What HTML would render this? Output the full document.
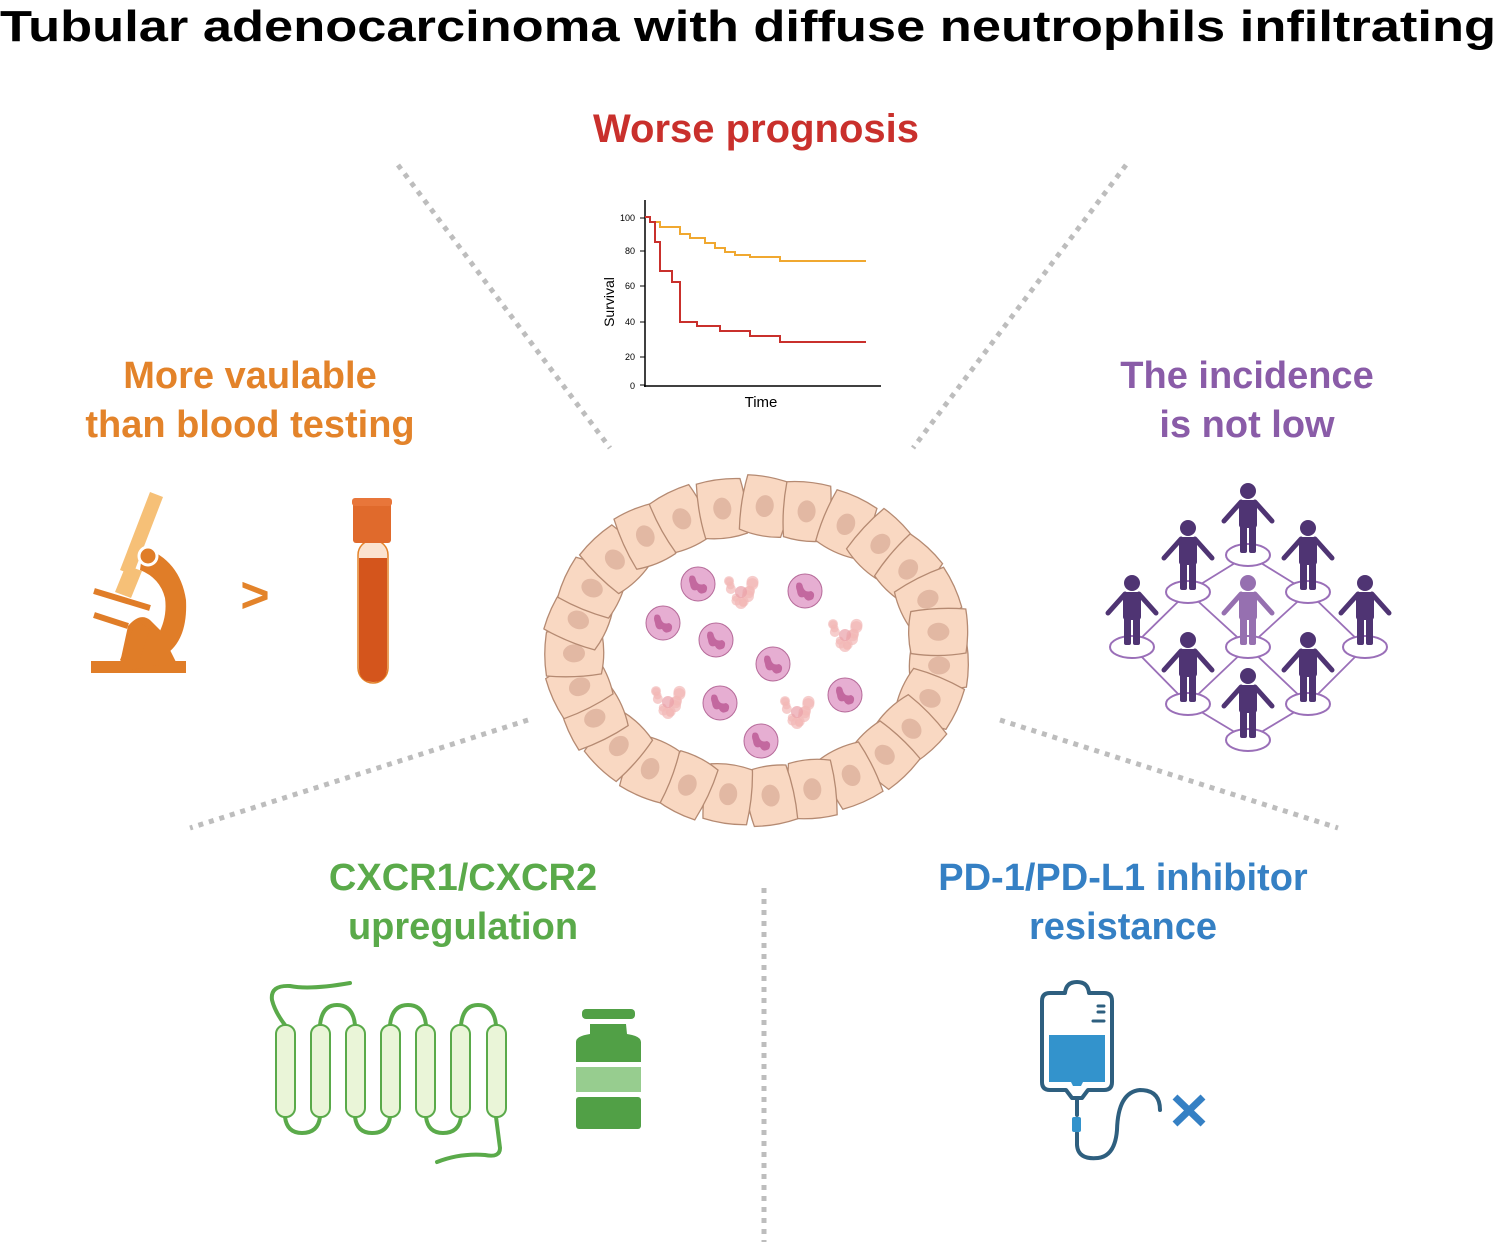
<!DOCTYPE html>
<html><head><meta charset="utf-8"><style>
html,body{margin:0;padding:0;background:#fff;overflow:hidden;}
svg{display:block;font-family:"Liberation Sans",Arial,sans-serif;}
</style></head><body>
<svg id="s" width="1496" height="1242" viewBox="0 0 1496 1242" xmlns="http://www.w3.org/2000/svg">
<text x="0" y="41" font-size="44" font-weight="bold" fill="#000" textLength="1496" lengthAdjust="spacingAndGlyphs">Tubular adenocarcinoma with diffuse neutrophils infiltrating</text>

<g stroke="#bdbdbd" stroke-width="5" stroke-dasharray="5 6" fill="none">
<line x1="398" y1="165" x2="610" y2="448"/>
<line x1="1126" y1="165" x2="913" y2="448"/>
<line x1="528" y1="720" x2="190" y2="828"/>
<line x1="1000" y1="720" x2="1338" y2="828"/>
<line x1="764" y1="888" x2="764" y2="1242"/>
</g>

<text x="756" y="142" font-size="40" font-weight="bold" fill="#c9302c" text-anchor="middle">Worse prognosis</text>
<g font-weight="bold" font-size="38" text-anchor="middle">
<text x="250" y="388" fill="#e3832a">More vaulable</text>
<text x="250" y="437" fill="#e3832a">than blood testing</text>
<text x="1247" y="388" fill="#8a5ca8">The incidence</text>
<text x="1247" y="437" fill="#8a5ca8">is not low</text>
<text x="463" y="890" fill="#5aaa4a">CXCR1/CXCR2</text>
<text x="463" y="939" fill="#5aaa4a">upregulation</text>
<text x="1123" y="890" fill="#3580c4">PD-1/PD-L1 inhibitor</text>
<text x="1123" y="939" fill="#3580c4">resistance</text>
</g>

<g font-size="9" fill="#000" text-anchor="end">
<line x1="645" y1="200" x2="645" y2="387" stroke="#000" stroke-width="1.5"/>
<line x1="644" y1="386" x2="881" y2="386" stroke="#000" stroke-width="1.5"/>
<text x="635" y="221">100</text><text x="635" y="254">80</text><text x="635" y="289">60</text>
<text x="635" y="325">40</text><text x="635" y="360">20</text><text x="635" y="389">0</text>
<g stroke="#000"><line x1="640" y1="218" x2="645" y2="218"/><line x1="640" y1="251" x2="645" y2="251"/><line x1="640" y1="286" x2="645" y2="286"/><line x1="640" y1="322" x2="645" y2="322"/><line x1="640" y1="357" x2="645" y2="357"/><line x1="640" y1="385" x2="645" y2="385"/></g>
<text x="614" y="302" font-size="14" text-anchor="middle" transform="rotate(-90 614 302)">Survival</text>
<text x="761" y="407" font-size="15" text-anchor="middle">Time</text>
<polyline fill="none" stroke="#f0a830" stroke-width="2" points="645,217 650,217 650,222 660,222 660,227 680,227 680,234 690,234 690,238 705,238 705,243 715,243 715,248 725,248 725,252 735,252 735,255 750,255 750,257 780,257 780,261 866,261"/>
<polyline fill="none" stroke="#c9302c" stroke-width="2" points="645,217 650,217 650,222 655,222 655,242 660,242 660,271 672,271 672,282 680,282 680,322 697,322 697,326 720,326 720,331 750,331 750,336 780,336 780,342 866,342"/>
</g>

<!-- microscope -->
<g>
<polygon points="150,492 163,497 133,575 120,570" fill="#f6c077"/>
<polygon points="126,565 142,571 131,598 115,592" fill="#f6c077"/>
<rect x="91" y="661" width="95" height="12" fill="#e07d28"/>
<path d="M143,547 Q180,560 186,600 Q188,640 165,655 L155,640 Q168,620 165,598 Q160,578 140,570 Z" fill="#e07d28"/>
<path d="M118,672 L128,626 Q140,612 150,620 L160,630 L176,662 Z" fill="#e07d28"/>
<circle cx="148" cy="556" r="9" fill="#e07d28" stroke="#fff" stroke-width="3"/>
<line x1="94" y1="591" x2="150" y2="608" stroke="#e07d28" stroke-width="6"/>
<line x1="94" y1="615" x2="128" y2="626" stroke="#e07d28" stroke-width="6"/>
<path d="M120,660 L137,620 L150,630 L140,660 Z" fill="#e07d28"/>
</g>
<text x="255" y="612" font-size="50" font-weight="bold" fill="#e3832a" text-anchor="middle">&gt;</text>
<rect x="358" y="540" width="30" height="143" rx="15" fill="#fbe3d0" stroke="#e3832a" stroke-width="1.5"/>
<path d="M359,558 L387,558 L387,668 Q387,682 373,682 Q359,682 359,668 Z" fill="#d4551c"/>
<rect x="353" y="499" width="38" height="44" rx="3" fill="#e06a2c"/>
<rect x="352" y="498" width="40" height="8" rx="3" fill="#e8763a"/>

<g id="cells"></g>
<g id="neut"></g>
<g id="people" fill="#4f3473"></g>

<!-- GPCR -->
<g fill="none" stroke="#5aaa4a" stroke-width="4" stroke-linecap="round">
<path d="M350,983 Q310,990 290,986 Q270,985 272,1000 Q275,1012 285,1025"/>
<path d="M320,1025 Q322,1005 337,1005 Q353,1005 355,1025"/>
<path d="M390,1025 Q392,1005 408,1005 Q424,1005 426,1025"/>
<path d="M461,1025 Q463,1005 478,1005 Q494,1005 496,1025"/>
<path d="M285,1117 Q287,1133 302,1133 Q318,1133 320,1117"/>
<path d="M355,1117 Q357,1133 372,1133 Q388,1133 390,1117"/>
<path d="M426,1117 Q428,1133 443,1133 Q459,1133 461,1117"/>
<path d="M496,1117 L500,1148 Q500,1158 485,1155 Q460,1153 437,1162"/>
</g>
<g fill="#eaf5d8" stroke="#5aaa4a" stroke-width="2">
<rect x="276" y="1025" width="19" height="92" rx="9"/>
<rect x="311" y="1025" width="19" height="92" rx="9"/>
<rect x="346" y="1025" width="19" height="92" rx="9"/>
<rect x="381" y="1025" width="19" height="92" rx="9"/>
<rect x="416" y="1025" width="19" height="92" rx="9"/>
<rect x="451" y="1025" width="19" height="92" rx="9"/>
<rect x="487" y="1025" width="19" height="92" rx="9"/>
</g>
<rect x="582" y="1009" width="53" height="10" rx="4" fill="#51a046"/>
<path d="M590,1024 L626,1024 L627,1034 Q641,1036 641,1042 L641,1062 L576,1062 L576,1042 Q576,1036 590,1034 Z" fill="#51a046"/>
<rect x="576" y="1067" width="65" height="25" fill="#97cd8f"/>
<rect x="576" y="1097" width="65" height="32" rx="3" fill="#51a046"/>

<!-- IV bag -->
<path d="M1049,1035 L1105,1035 L1105,1082 L1083,1082 L1081,1086 L1073,1086 L1071,1082 L1049,1082 Z" fill="#3393cc"/>
<g fill="none" stroke="#2e5f7f" stroke-width="4" stroke-linecap="round" stroke-linejoin="round">
<path d="M1050,993 L1065,993 Q1066,982 1077,982 Q1088,982 1089,993 L1104,993 Q1112,993 1112,1001 L1112,1082 Q1112,1090 1104,1090 L1088,1090 L1082,1098 L1072,1098 L1066,1090 L1050,1090 Q1042,1090 1042,1082 L1042,1001 Q1042,993 1050,993 Z"/>
<line x1="1098" y1="1006" x2="1104" y2="1006" stroke-width="3"/>
<line x1="1098" y1="1012" x2="1104" y2="1012" stroke-width="3"/>
<line x1="1093" y1="1021" x2="1104" y2="1021" stroke-width="3"/>
<path d="M1077,1098 L1077,1115"/>
<path d="M1077,1133 L1077,1145 Q1078,1160 1098,1158 Q1115,1156 1117,1130 Q1118,1092 1140,1090 Q1160,1090 1160,1110"/>
</g>
<rect x="1072" y="1117" width="9" height="15" rx="2" fill="#3393cc"/>
<g stroke="#3580c4" stroke-width="7"><line x1="1175" y1="1097" x2="1203" y2="1124"/><line x1="1203" y1="1097" x2="1175" y2="1124"/></g>
</svg>
<script>
var NS="http://www.w3.org/2000/svg";
function el(t,a,p){var e=document.createElementNS(NS,t);for(var k in a)e.setAttribute(k,a[k]);p.appendChild(e);return e;}
var cg=document.getElementById("cells");
var cx=757,cy=651,rx=183,ry=145,N=27;
for(var i=0;i<N;i++){var t=i/N*2*Math.PI+0.1;var x=cx+rx*Math.cos(t),y=cy+ry*Math.sin(t);
var ang=Math.atan2(Math.sin(t)*rx, Math.cos(t)*ry)*180/Math.PI + (i%3-1)*8;
var g=el("g",{transform:"translate("+x.toFixed(1)+","+y.toFixed(1)+") rotate("+(ang-90).toFixed(1)+")"},cg);
el("path",{d:"M-21,-28 Q0,-32 21,-27 Q25,0 22,28 Q0,31 -22,27 Q-26,0 -21,-28Z",fill:"#f9d8c2",stroke:"#b58a72","stroke-width":1.3},g);
el("ellipse",{cx:0,cy:0,rx:9,ry:11,fill:"#e2b8a3"},g);}
var ng=document.getElementById("neut");
[[698,584],[805,591],[663,623],[716,640],[773,664],[845,695],[720,703],[761,741]].forEach(function(p){
el("circle",{cx:p[0],cy:p[1],r:17,fill:"#e6aed2",stroke:"#b56a99","stroke-width":1},ng);
el("path",{d:"M"+(p[0]-8)+","+(p[1]-8)+" q5,-2 6,4 q2,6 8,4 q5,2 2,8 q-6,4 -9,-2 q-6,2 -7,-6 q-2,-5 0,-8z",fill:"#c3689f"},ng);});
[[741,592],[845,635],[668,702],[797,712]].forEach(function(p){
for(var k=0;k<14;k++){el("circle",{cx:p[0]+(Math.sin(k*2.3)*12),cy:p[1]+(Math.cos(k*1.7)*11),r:6-(k%3),fill:"#f2b8b6",opacity:0.7},ng);}
el("circle",{cx:p[0],cy:p[1],r:6,fill:"#eaa0a8",opacity:0.7},ng);});
var pg=document.getElementById("people");
var P=[[1248,555],[1188,592],[1308,592],[1132,647],[1248,647],[1365,647],[1188,704],[1308,704],[1248,740]];
var lines=[[0,1],[0,2],[1,3],[1,4],[2,4],[2,5],[3,6],[4,6],[4,7],[5,7],[6,8],[7,8]];
lines.forEach(function(l){el("line",{x1:P[l[0]][0],y1:P[l[0]][1],x2:P[l[1]][0],y2:P[l[1]][1],stroke:"#9a6fb8","stroke-width":1.8},pg);});
P.forEach(function(p){el("ellipse",{cx:p[0],cy:p[1],rx:22,ry:11,fill:"#fff",stroke:"#9a6fb8","stroke-width":2},pg);});
P.forEach(function(p,i){var c=i==4?"#9670b0":"#4f3473";
var g=el("g",{transform:"translate("+p[0]+","+p[1]+")",fill:c},pg);
el("circle",{cx:0,cy:-64,r:8},g);
el("rect",{x:-9,y:-55,width:18,height:28,rx:3},g);
el("rect",{x:-8,y:-32,width:7,height:30,rx:2},g);
el("rect",{x:1,y:-32,width:7,height:30,rx:2},g);
el("line",{x1:-7,y1:-53,x2:-24,y2:-34,stroke:c,"stroke-width":5,"stroke-linecap":"round"},g);
el("line",{x1:7,y1:-53,x2:24,y2:-34,stroke:c,"stroke-width":5,"stroke-linecap":"round"},g);});
</script>
</body></html>
